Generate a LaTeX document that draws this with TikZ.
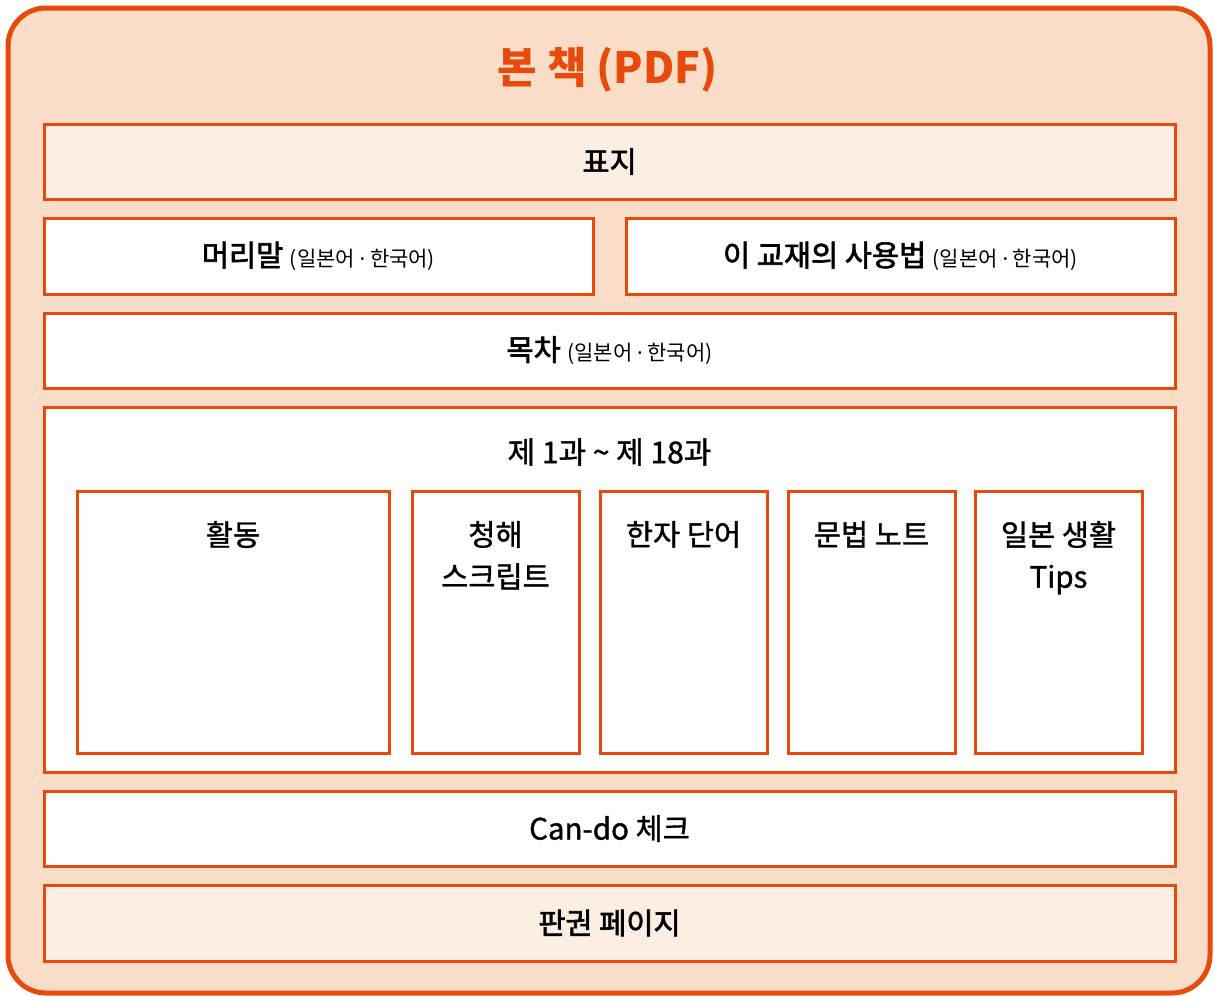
\documentclass[tikz,border=0pt]{standalone}
\usepackage{fontspec}
\setmainfont{Noto Sans CJK KR}
\newfontfamily\medfont[FakeBold=1.2]{Noto Sans CJK KR}
\newfontfamily\semifont[FakeBold=2.2]{Noto Sans CJK KR}
\newfontfamily\dotfont{Noto Sans}
\usetikzlibrary{positioning}
\definecolor{bookorange}{HTML}{E84A0C}
\definecolor{bookpeach}{HTML}{FADDC8}
\definecolor{booklight}{HTML}{FDEEE4}
\tikzset{
  part/.style={draw=bookorange, line width=3pt, fill=white, inner sep=0pt, font=\fontsize{29.5}{34}\medfont},
  boldpart/.style={part, font=\fontsize{29.5}{34}\semifont},
  lesson/.style={draw=bookorange, line width=3pt, fill=white, minimum height=262pt},
  lessonlabel/.style={align=center, anchor=north, font=\fontsize{29.5}{42}\medfont},
}
\newcommand{\lang}{{\fontsize{21}{24}\selectfont\normalfont (일본어 {\dotfont ·} 한국어)}}
\begin{document}
\begin{tikzpicture}[x=1pt,y=-1pt]
  \useasboundingbox (0,0) rectangle (1215,996);
  % outer frame
  \draw [bookorange, fill=bookpeach, line width=5pt, rounded corners=38pt] (8,8) rectangle (1210,993);
  \node (title) at (608,70) {\fontsize{43}{48}\selectfont\bfseries\color{bookorange}본 책 (PDF)};

  \node [boldpart, fill=booklight, minimum width=1131pt, minimum height=75pt] (cover) at (609.5,161.5) {표지};
  \node [boldpart, minimum width=549pt, minimum height=76pt] (preface) at (318.5,256) {머리말 \lang};
  \node [boldpart, minimum width=549pt, minimum height=76pt] (howto) at (900.5,256) {이 교재의 사용법 \lang};
  \node [boldpart, minimum width=1131pt, minimum height=75pt] (contents) at (609.5,350.5) {목차 \lang};

  % lessons
  \node [part, minimum width=1131pt, minimum height=365pt] (lessons) at (609.5,589.5) {};
  \node [font=\fontsize{30}{34}\medfont] (lessonstitle) at (609.5,452) {제 1과 \textasciitilde{} 제 18과};
  \node [lesson, minimum width=312pt] (activity) at (233,622) {};
  \node [lesson, minimum width=167pt] (listening) at (495.5,622) {};
  \node [lesson, minimum width=167pt] (kanji) at (683.5,622) {};
  \node [lesson, minimum width=167pt] (grammar) at (871.5,622) {};
  \node [lesson, minimum width=167pt] (life) at (1058.5,622) {};
  \node [lessonlabel] at ([yshift=-28pt]activity.north) {활동};
  \node [lessonlabel] at ([yshift=-28pt]listening.north) {청해\\스크립트};
  \node [lessonlabel] at ([yshift=-28pt]kanji.north) {한자 단어};
  \node [lessonlabel] at ([yshift=-28pt]grammar.north) {문법 노트};
  \node [lessonlabel] at ([yshift=-28pt]life.north) {일본 생활\\Tips};

  \node [part, minimum width=1131pt, minimum height=75pt] (cando) at (609.5,828.5) {Can-do 체크};
  \node [boldpart, fill=booklight, minimum width=1131pt, minimum height=76pt] (copyright) at (609.5,923) {판권 페이지};
\end{tikzpicture}
\end{document}
